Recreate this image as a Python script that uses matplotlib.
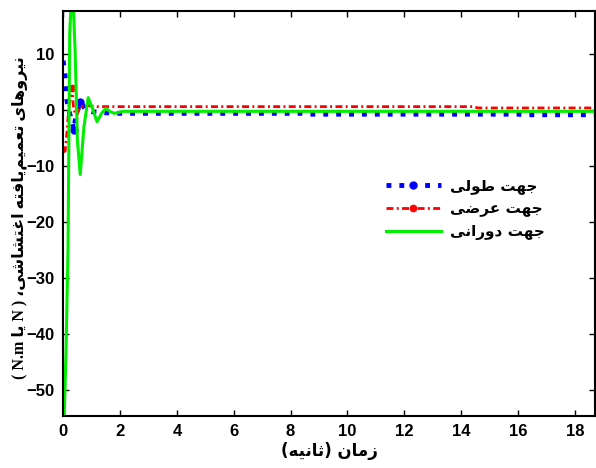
import matplotlib
matplotlib.use("Agg")
import matplotlib.pyplot as plt

# Persian text is drawn glyph by glyph: pick the joined form of each letter
# and reverse the word, since matplotlib does no Arabic shaping itself.
FORMS = {
    'ا': ('\uFE8D', '\uFE8E'),
    'د': ('\uFEA9', '\uFEAA'),
    'ر': ('\uFEAD', '\uFEAE'),
    'ز': ('\uFEAF', '\uFEB0'),
    'و': ('\uFEED', '\uFEEE'),
    'ت': ('\uFE95', '\uFE96', '\uFE97', '\uFE98'),
    'ث': ('\uFE99', '\uFE9A', '\uFE9B', '\uFE9C'),
    'ج': ('\uFE9D', '\uFE9E', '\uFE9F', '\uFEA0'),
    'ش': ('\uFEB5', '\uFEB6', '\uFEB7', '\uFEB8'),
    'ض': ('\uFEBD', '\uFEBE', '\uFEBF', '\uFEC0'),
    'ط': ('\uFEC1', '\uFEC2', '\uFEC3', '\uFEC4'),
    'ع': ('\uFEC9', '\uFECA', '\uFECB', '\uFECC'),
    'غ': ('\uFECD', '\uFECE', '\uFECF', '\uFED0'),
    'ف': ('\uFED1', '\uFED2', '\uFED3', '\uFED4'),
    'ل': ('\uFEDD', '\uFEDE', '\uFEDF', '\uFEE0'),
    'م': ('\uFEE1', '\uFEE2', '\uFEE3', '\uFEE4'),
    'ن': ('\uFEE5', '\uFEE6', '\uFEE7', '\uFEE8'),
    'ه': ('\uFEE9', '\uFEEA', '\uFEEB', '\uFEEC'),
    'ی': ('\uFEEF', '\uFEF0', '\uFEF3', '\uFEF4'),
}


def shape(word):
    out = []
    for i, ch in enumerate(word):
        f = FORMS[ch]
        prev_joins = i > 0 and len(FORMS[word[i - 1]]) == 4
        next_joins = len(f) == 4 and i < len(word) - 1
        if prev_joins and next_joins:
            out.append(f[3])
        elif next_joins:
            out.append(f[2])
        elif prev_joins:
            out.append(f[1])
        else:
            out.append(f[0])
    return ''.join(reversed(out))


def rtl(text):
    return ' '.join(shape(w) for w in reversed(text.split(' ')))


# time histories of the three generalized disturbance forces
t_long = [0, 0.07, 0.11, 0.13, 0.19, 0.25, 0.31, 0.37, 0.45, 0.6, 0.8, 1.0,
          1.5, 2.0, 8.4, 8.6, 16.0, 16.2, 18.7]
f_long = [8.8, 6.0, 3.6, 1.8, 0.0, -1.0, -2.1, -3.6, -1.0, 1.5, 0.0, -0.3,
          -0.5, -0.6, -0.6, -0.75, -0.75, -0.85, -0.85]

t_lat = [0, 0.07, 0.13, 0.2, 0.31, 0.37, 0.48, 0.6, 0.8, 1.2, 14.4, 14.6, 18.7]
f_lat = [-7.5, -7.3, -4.2, 0.5, 3.9, 0.0, -0.9, 0.6, 0.8, 0.6, 0.6, 0.36, 0.36]

t_rot = [0, 0.035, 0.1, 0.15, 0.17, 0.23, 0.28, 0.31, 0.36, 0.42, 0.5, 0.6,
         0.73, 0.88, 1.05, 1.19, 1.35, 1.5, 1.65, 1.8, 2.1, 18.7]
f_rot = [-56, -55, -43, -30, -25, 13.7, 19, 21, 18, 10.7, -5.4, -11.5,
         -3, 2.2, 0, -2.1, -0.6, 0.3, -0.3, -0.6, -0.24, -0.24]

labels = ['جهت طولی', 'جهت عرضی', 'جهت دورانی']
xticks = [0, 2, 4, 6, 8, 10, 12, 14, 16, 18]
yticks = [-50, -40, -30, -20, -10, 0, 10]

fig = plt.figure(figsize=(5.96, 4.68), dpi=100)
ax = fig.add_axes([0.106, 0.111, 0.893, 0.866])

ax.plot(t_long, f_long, color='blue', ls=':', lw=3.5, marker='.', ms=10,
        markevery=[7, 9], label=rtl(labels[0]))
ax.plot(t_lat, f_lat, color='red', ls=(0, (2.5, 1.2, 0.7, 1.2)), lw=2,
        marker='.', ms=9, markevery=[4], label=rtl(labels[1]))
ax.plot(t_rot, f_rot, color='#00ee00', ls='-', lw=2.2, label=rtl(labels[2]))

ax.set_xlim(0, 18.72)
ax.set_ylim(-54.6, 17.7)
ax.set_xticks(xticks)
ax.set_yticks(yticks)

tick_font = ['Liberation Sans', 'DejaVu Sans']
ax.tick_params(direction='in', top=True, right=True, length=4, width=1,
               labelsize=12, pad=6)
for lab in ax.get_xticklabels() + ax.get_yticklabels():
    lab.set_family(tick_font)
    lab.set_fontweight('bold')
for s in ax.spines.values():
    s.set_linewidth(1.5)

xlabel = '(' + shape('ثانیه') + ') ' + shape('زمان')
ax.set_xlabel(xlabel, fontsize=12, fontweight='bold',
              family=['DejaVu Sans'], labelpad=2)

ylabel = ('( N.m ' + shape('یا') + ' N ) \u060C' + shape('اغتشاشی') + ' '
          + shape('یافته') + shape('تعمیم') + ' ' + shape('نیروهای'))
ax.set_ylabel(ylabel, fontsize=11.5, fontweight='bold',
              family=['Liberation Serif', 'DejaVu Sans'])
ax.yaxis.set_label_coords(-0.066, 0.49)

leg = ax.legend(loc='upper left', bbox_to_anchor=(0.58, 0.62), frameon=False,
                numpoints=1, handlelength=3.6, handletextpad=0.6,
                labelspacing=0.45,
                prop={'family': ['DejaVu Sans'], 'weight': 'bold', 'size': 11})

fig.savefig('out.png', dpi=100)
